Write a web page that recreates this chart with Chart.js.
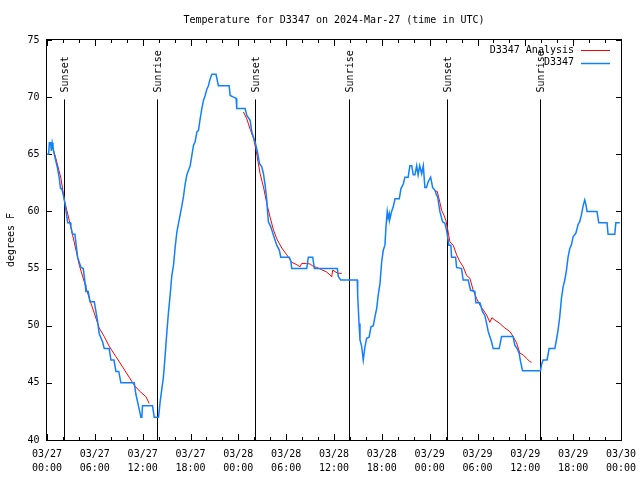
<!DOCTYPE html>
<html>
<head>
<meta charset="utf-8">
<script src="https://cdn.jsdelivr.net/npm/chart.js@4.4.1/dist/chart.umd.min.js"></script>
<style>
html, body { margin: 0; padding: 0; background: #fff; }
canvas { display: block; }
</style>
</head>
<body>
<canvas id="chart" width="640" height="480"></canvas>
<script>
const chartTitle = 'Temperature for D3347 on 2024-Mar-27 (time in UTC)';
const xTickDates = ['03/27', '03/27', '03/27', '03/27', '03/28', '03/28', '03/28', '03/28', '03/29', '03/29', '03/29', '03/29', '03/30'];
const xTickTimes = ['00:00', '06:00', '12:00', '18:00', '00:00', '06:00', '12:00', '18:00', '00:00', '06:00', '12:00', '18:00', '00:00'];

// hours since 03/27 00:00 UTC
const sunHours = [2.17, 13.82, 26.12, 37.88, 50.17, 61.84];
const sunLabels = ['Sunset', 'Sunrise', 'Sunset', 'Sunrise', 'Sunset', 'Sunrise'];

const obsHours = [0.0, 0.2, 0.3, 0.45, 0.55, 0.65, 0.75, 0.91, 1.33, 1.54, 1.7, 1.83, 2.0, 2.25, 2.5, 2.6, 2.92, 3.0, 3.2, 3.5,
	3.84, 4.26, 4.55, 4.8, 4.88, 5.17, 5.39, 5.93, 6.35, 6.55, 6.97, 7.18, 7.8, 8.02, 8.4, 8.65, 9.0, 9.27, 10.94, 11.15,
	11.44, 11.78, 11.9, 11.98, 13.23, 13.45, 13.99, 14.2, 14.41, 14.61, 14.82, 15.04, 15.24, 15.45, 15.66, 15.87, 16.08, 16.29, 16.7, 16.92,
	17.12, 17.33, 17.54, 17.96, 18.17, 18.38, 18.58, 18.8, 19.0, 19.21, 19.42, 19.62, 19.84, 20.05, 20.25, 20.46, 20.68, 21.2, 21.5, 22.85,
	22.97, 23.4, 23.72, 23.8, 24.85, 25.06, 25.48, 25.69, 25.9, 26.1, 26.4, 26.65, 26.94, 27.15, 27.36, 27.57, 27.65, 27.77, 28.07, 28.32,
	28.6, 28.82, 29.15, 29.32, 30.4, 30.6, 30.7, 32.58, 32.78, 33.33, 33.54, 36.42, 36.54, 36.84, 38.92, 38.97, 39.14, 39.26, 39.47, 39.67,
	39.89, 40.1, 40.4, 40.64, 40.93, 41.14, 41.35, 41.55, 41.77, 41.98, 42.18, 42.39, 42.52, 42.68, 42.8, 42.93, 43.0, 43.23, 43.43, 43.65,
	44.19, 44.4, 44.69, 44.9, 45.3, 45.52, 45.75, 45.94, 46.15, 46.37, 46.55, 46.75, 47.0, 47.2, 47.4, 47.6, 47.82, 48.12, 48.37, 48.66,
	48.87, 49.0, 49.28, 49.62, 49.91, 50.12, 50.25, 50.41, 50.66, 50.75, 51.25, 51.38, 52.0, 52.2, 52.83, 53.13, 53.67, 53.8, 54.3, 54.64,
	54.92, 55.14, 55.34, 55.55, 55.76, 55.97, 56.72, 57.02, 58.47, 58.68, 58.97, 59.22, 59.4, 59.65, 61.9, 62.03, 62.23, 62.73, 62.98, 63.7,
	63.9, 64.1, 64.32, 64.53, 64.74, 64.95, 65.16, 65.36, 65.58, 65.79, 65.99, 66.33, 66.62, 66.82, 67.03, 67.24, 67.45, 67.6, 67.74, 68.99,
	69.21, 70.25, 70.38, 71.22, 71.35, 71.85];
const obsTemps = [65.0, 65.0, 66.0, 66.0, 65.3, 66.0, 65.6, 65.0, 63.75, 62.9, 62.0, 62.0, 61.6, 60.7, 59.5, 59.0, 59.0, 58.65, 58.0, 58.0,
	56.0, 55.1, 55.0, 53.6, 53.0, 53.0, 52.1, 52.1, 50.35, 49.3, 48.6, 48.0, 48.0, 47.0, 47.0, 46.0, 46.0, 45.0, 45.0, 44.0,
	43.1, 42.0, 42.0, 43.0, 43.0, 42.0, 42.0, 43.4, 44.5, 45.55, 47.4, 49.5, 51.2, 52.7, 54.4, 55.3, 56.9, 58.2, 59.7, 60.5,
	61.3, 62.4, 63.2, 64.0, 64.9, 65.8, 66.1, 66.95, 67.1, 68.1, 69.0, 69.7, 70.15, 70.7, 71.0, 71.6, 72.0, 72.0, 71.0, 71.0,
	70.15, 70.0, 69.9, 69.0, 69.0, 68.4, 67.97, 66.95, 66.5, 66.1, 65.2, 64.2, 63.9, 63.3, 62.3, 61.0, 60.1, 59.1, 58.65, 58.1,
	57.5, 57.05, 56.6, 56.0, 56.0, 55.6, 55.0, 55.0, 56.0, 56.0, 55.0, 55.0, 54.3, 54.0, 54.0, 52.7, 50.2, 48.75, 48.2, 47.0,
	48.2, 48.9, 49.0, 49.9, 50.0, 50.8, 51.5, 52.7, 53.7, 55.6, 56.6, 57.05, 58.65, 60.0, 59.4, 59.8, 59.3, 60.0, 60.4, 61.1,
	61.1, 62.0, 62.4, 63.0, 63.0, 64.0, 64.0, 63.2, 63.2, 64.0, 63.2, 64.0, 63.3, 64.0, 62.1, 62.1, 62.6, 63.0, 62.1, 61.85,
	61.4, 61.3, 60.0, 59.1, 58.95, 58.36, 57.8, 57.05, 57.05, 56.0, 56.0, 55.1, 55.0, 54.0, 54.0, 53.1, 53.0, 52.0, 52.0, 51.2,
	50.9, 50.2, 49.5, 49.05, 48.6, 48.0, 48.0, 49.05, 49.05, 48.3, 48.0, 47.6, 46.85, 46.05, 46.05, 46.6, 47.0, 47.0, 48.0, 48.0,
	48.75, 49.6, 50.8, 52.4, 53.4, 54.0, 54.87, 56.0, 56.76, 57.1, 57.78, 58.07, 58.86, 59.1, 59.67, 60.46, 61.0, 60.6, 60.0, 60.0,
	59.0, 59.0, 58.0, 58.0, 59.0, 59.0];

// analysis runs, null = gap between runs
const anaHours = [0.58, 1.13, 1.75, 2.17, 2.8, 3.42, 4.05, 4.67, 5.3, 5.93, 6.55, 7.18, 7.8, 8.64, 9.48, 10.3, 10.94, 11.57, 12.4, 12.82,
	18.0,
	24.64, 25.06, 25.48, 25.9, 26.23, 26.73, 27.15, 27.57, 27.98, 28.4, 28.82, 29.45, 30.08, 30.7, 31.24, 31.74, 31.95, 32.58, 33.0, 33.4,
	33.83, 34.46, 35.08, 35.65, 35.71, 35.84, 36.42, 36.97,
	42.0,
	48.66, 48.95, 49.28, 49.5, 49.79, 50.04, 50.32, 50.54, 50.95, 51.38, 51.79, 52.2, 52.63, 53.05, 53.46, 53.88, 54.3, 54.71, 55.14, 55.55,
	55.8, 56.18, 56.8, 57.43, 58.06, 58.47, 58.9, 59.31, 59.72, 60.15, 60.56, 60.78];
const anaTemps = [65.9, 64.6, 62.9, 61.0, 59.2, 57.3, 55.3, 53.85, 52.4, 51.1, 49.8, 49.05, 48.2, 47.3, 46.4, 45.5, 44.8, 44.3, 43.8, 43.2,
	null,
	68.7, 68.1, 67.2, 66.4, 65.35, 63.3, 62.15, 60.7, 59.5, 58.4, 57.6, 56.8, 56.2, 55.55, 55.37, 55.16, 55.45, 55.45, 55.4, 55.2,
	55.1, 54.9, 54.7, 54.35, 54.3, 54.87, 54.6, 54.58,
	null,
	61.77, 61.75, 60.8, 60.1, 59.67, 59.2, 58.2, 57.34, 57.05, 56.2, 55.6, 55.16, 54.4, 54.14, 53.1, 52.4, 51.8, 51.4, 50.94, 50.3,
	50.7, 50.5, 50.2, 49.8, 49.5, 49.05, 48.5, 47.6, 47.45, 47.15, 46.86, 46.8];

const monoFont = { family: "'DejaVu Sans Mono', monospace", size: 10 };

const framePlugin = {
	id: 'frame',
	beforeDatasetsDraw(chart) {
		const { ctx, chartArea: a, scales: { x, y } } = chart;
		ctx.save();
		ctx.strokeStyle = '#000';
		ctx.lineWidth = 1;
		ctx.beginPath();
		for (let h = 0; h <= 72; h += 2) {
			const px = Math.round(x.getPixelForValue(h)) + 0.5;
			const len = h % 6 === 0 ? 6 : 3;
			ctx.moveTo(px, a.bottom); ctx.lineTo(px, a.bottom - len);
			ctx.moveTo(px, a.top); ctx.lineTo(px, a.top + len);
		}
		y.ticks.forEach((t) => {
			const py = Math.round(y.getPixelForValue(t.value)) + 0.5;
			ctx.moveTo(a.left, py); ctx.lineTo(a.left + 5, py);
			ctx.moveTo(a.right, py); ctx.lineTo(a.right - 5, py);
		});
		const lineTop = y.getPixelForValue(69.8);
		sunHours.forEach((h) => {
			const px = Math.round(x.getPixelForValue(h)) + 0.5;
			ctx.moveTo(px, lineTop); ctx.lineTo(px, a.bottom);
		});
		ctx.stroke();
		ctx.strokeRect(Math.round(a.left) - 0.5, Math.round(a.top) - 0.5, Math.round(a.right - a.left) + 1, Math.round(a.bottom - a.top) + 1);

		ctx.fillStyle = '#000';
		ctx.font = `${monoFont.size}px ${monoFont.family}`;
		ctx.textAlign = 'left';
		ctx.textBaseline = 'middle';
		sunHours.forEach((h, i) => {
			ctx.save();
			ctx.translate(x.getPixelForValue(h) + 1, lineTop - 7);
			ctx.rotate(-Math.PI / 2);
			ctx.fillText(sunLabels[i], 0, 0);
			ctx.restore();
		});
		ctx.restore();
	},
	afterDraw(chart) {
		const { ctx, chartArea: a } = chart;
		ctx.save();
		ctx.fillStyle = '#000';
		ctx.font = `${monoFont.size}px ${monoFont.family}`;
		ctx.textAlign = 'center';
		ctx.textBaseline = 'middle';
		ctx.fillText(chartTitle, (a.left + a.right) / 2, 20);

		// key, top right inside the plot
		const rows = [chart.data.datasets[0], chart.data.datasets[1]];
		rows.forEach((ds, i) => {
			const ty = a.top + 10 + i * 12.5;
			ctx.textAlign = 'right';
			ctx.fillStyle = '#000';
			ctx.fillText(ds.label, a.right - 47, ty);
			ctx.strokeStyle = ds.borderColor;
			ctx.lineWidth = ds.borderWidth;
			ctx.beginPath();
			ctx.moveTo(a.right - 40, Math.round(ty) + 0.5);
			ctx.lineTo(a.right - 11, Math.round(ty) + 0.5);
			ctx.stroke();
		});
		ctx.restore();
	}
};

new Chart(document.getElementById('chart'), {
	type: 'line',
	data: {
		datasets: [
			{
				label: 'D3347 Analysis',
				data: anaHours.map((h, i) => ({ x: h, y: anaTemps[i] })),
				borderColor: '#ff0000',
				borderWidth: 1,
				pointRadius: 0,
				tension: 0,
				spanGaps: false,
				order: 2
			},
			{
				label: 'D3347',
				data: obsHours.map((h, i) => ({ x: h, y: obsTemps[i] })),
				borderColor: '#1080ff',
				borderWidth: 1.5,
				pointRadius: 0,
				tension: 0,
				order: 1
			}
		]
	},
	options: {
		responsive: false,
		animation: false,
		layout: { padding: { top: 40, right: 19, left: 0, bottom: 0 } },
		plugins: {
			legend: { display: false },
			title: { display: false },
			tooltip: { enabled: false }
		},
		scales: {
			x: {
				type: 'linear',
				min: 0,
				max: 72,
				grid: { display: false, drawTicks: false },
				border: { display: false },
				ticks: {
					stepSize: 6,
					autoSkip: false,
					maxRotation: 0,
					padding: 7,
					color: '#000',
					font: { ...monoFont, lineHeight: 1.4 },
					callback: (v) => {
						const i = Math.round(v / 6);
						return [xTickDates[i], xTickTimes[i]];
					}
				},
				afterFit: (s) => { s.height = 40; s.paddingLeft = 0; s.paddingRight = 0; }
			},
			y: {
				min: 40,
				max: 75,
				grid: { display: false, drawTicks: false },
				border: { display: false },
				ticks: { stepSize: 5, padding: 7.5, color: '#000', font: monoFont },
				title: { display: true, text: 'degrees F', color: '#000', font: monoFont, padding: { top: 5, bottom: 0 } },
				afterFit: (s) => { s.width = 47; s.paddingTop = 0; s.paddingBottom = 0; }
			}
		}
	},
	plugins: [framePlugin]
});
</script>
</body>
</html>
